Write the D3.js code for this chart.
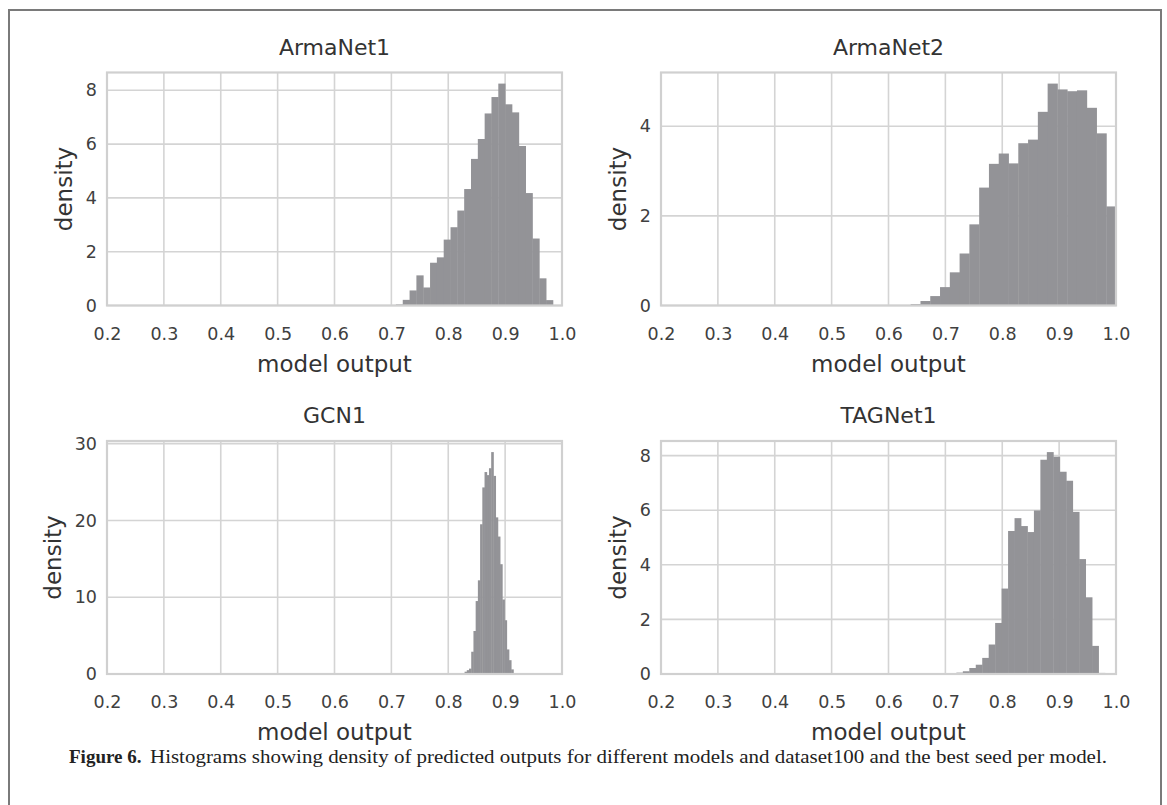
<!DOCTYPE html>
<html>
<head>
<meta charset="utf-8">
<script src="https://cdn.jsdelivr.net/npm/d3@7"></script>
<style>
	body { margin: 0; background: #fff; }
	svg { display: block; }
</style>
</head>
<body>
<svg id="figure" width="1167" height="805"></svg>
<script>
// values
const titles = ["ArmaNet1", "ArmaNet2", "GCN1", "TAGNet1"];
const xTicks = [0.2, 0.3, 0.4, 0.5, 0.6, 0.7, 0.8, 0.9, 1.0];
const yTicks = [
	[0, 2, 4, 6, 8],
	[0, 2, 4],
	[0, 10, 20, 30],
	[0, 2, 4, 6, 8]
];
// first bin edge and bin width per model
const binStart = [0.708, 0.639, 0.8248, 0.708];
const binWidth = [0.012, 0.0172, 0.0039, 0.01136];

const armaNet1 = [0.04, 0.21, 0.56, 1.12, 0.67, 1.59, 1.79, 2.45, 2.91, 3.53, 4.33, 5.45,
	6.19, 7.14, 7.75, 8.25, 7.48, 7.18, 5.93, 4.18, 2.49, 1.01, 0.2];
const armaNet2 = [0.03, 0.1, 0.21, 0.41, 0.74, 1.16, 1.81, 2.63, 3.16, 3.39, 3.17, 3.62,
	3.7, 4.32, 4.95, 4.82, 4.78, 4.8, 4.41, 3.84, 2.21];
const gcn1 = [0.1, 0.3, 0.5, 0.7, 2.9, 5.6, 9.5, 12.2, 19.5, 24.3, 26.3, 25.9,
	26.8, 28.9, 25.8, 20.4, 17.9, 14.3, 9.7, 7.0, 3.2, 1.8, 0.6, 0.1];
const tagNet1 = [0.02, 0.05, 0.1, 0.22, 0.34, 0.59, 1.08, 1.87, 3.13, 5.24, 5.71, 5.42,
	5.2, 5.99, 7.85, 8.13, 7.96, 7.41, 7.08, 5.94, 4.21, 2.81, 1.03, 0.04];
const densities = [armaNet1, armaNet2, gcn1, tagNet1];

const captionLabel = "Figure 6.";
const caption = "Histograms showing density of predicted outputs for different models and dataset100 and the best seed per model.";

const svg = d3.select("#figure");
const panelW = 455, panelH = 233;
const panelLeft = [107, 661, 107, 661];
const panelTop = [72.5, 72.5, 441, 441];

const gridColor = "#d4d4d4";
const textColor = "#404040";
const barColor = "#939397";

// outer frame (open at the bottom, as in the cropped page)
svg.append("path")
	.attr("d", "M9,805 V10 H1161 V805")
	.attr("fill", "none")
	.attr("stroke", "#7a7a7a")
	.attr("stroke-width", 2);

function drawPanel(i) {
	const g = svg.append("g")
		.attr("transform", `translate(${panelLeft[i]}, ${panelTop[i]})`);
	const data = densities[i];
	const x = d3.scaleLinear().domain([0.2, 1.0]).range([0, panelW]);
	const y = d3.scaleLinear().domain([0, d3.max(data) * 1.05]).range([panelH, 0]);

	// grid
	g.append("g").selectAll("line")
		.data(xTicks)
		.enter()
		.append("line")
		.attr("x1", d => x(d)).attr("x2", d => x(d))
		.attr("y1", 0).attr("y2", panelH)
		.attr("stroke", gridColor)
		.attr("stroke-width", 1.6);
	g.append("g").selectAll("line")
		.data(yTicks[i])
		.enter()
		.append("line")
		.attr("x1", 0).attr("x2", panelW)
		.attr("y1", d => y(d)).attr("y2", d => y(d))
		.attr("stroke", gridColor)
		.attr("stroke-width", 1.6);

	// histogram bars
	g.append("g").selectAll("rect")
		.data(data)
		.enter()
		.append("rect")
		.attr("x", (_, j) => x(binStart[i] + j * binWidth[i]))
		.attr("width", (_, j) => x(binStart[i] + (j + 1) * binWidth[i]) - x(binStart[i] + j * binWidth[i]) + 0.4)
		.attr("y", d => y(d))
		.attr("height", d => panelH - y(d))
		.attr("fill", barColor);

	// frame
	g.append("rect")
		.attr("width", panelW)
		.attr("height", panelH)
		.attr("fill", "none")
		.attr("stroke", "#d0d0d0")
		.attr("stroke-width", 2.2);

	// axes (text only, no tick marks)
	const xAxis = g.append("g")
		.attr("transform", `translate(0, ${panelH})`)
		.call(d3.axisBottom(x).tickValues(xTicks).tickFormat(d3.format(".1f")).tickSize(0).tickPadding(22));
	const yAxis = g.append("g")
		.call(d3.axisLeft(y).tickValues(yTicks[i]).tickFormat(d3.format("d")).tickSize(0).tickPadding(10));
	[xAxis, yAxis].forEach(a => {
		a.select(".domain").remove();
		a.selectAll("text")
			.attr("fill", textColor)
			.style("font-family", "DejaVu Sans")
			.style("font-size", "17.5px");
	});

	// y label sits left of the widest tick label, like matplotlib
	let tickW = 0;
	yAxis.selectAll("text").each(function () {
		tickW = Math.max(tickW, this.getBBox().width);
	});

	g.append("text")
		.attr("x", panelW / 2)
		.attr("y", -18)
		.attr("text-anchor", "middle")
		.attr("fill", "#333")
		.style("font-family", "DejaVu Sans")
		.style("font-size", "22px")
		.text(titles[i]);

	g.append("text")
		.attr("x", panelW / 2)
		.attr("y", panelH + 66)
		.attr("text-anchor", "middle")
		.attr("fill", "#333")
		.style("font-family", "DejaVu Sans")
		.style("font-size", "23px")
		.text("model output");

	g.append("text")
		.attr("transform", `translate(${-(10 + tickW + 14)}, ${panelH / 2}) rotate(-90)`)
		.attr("text-anchor", "middle")
		.attr("fill", "#333")
		.style("font-family", "DejaVu Sans")
		.style("font-size", "23px")
		.text("density");
}

d3.range(titles.length).forEach(drawPanel);

svg.append("text")
	.attr("x", 69)
	.attr("y", 763)
	.style("font-family", "Liberation Serif")
	.style("font-size", "19px")
	.style("font-weight", "bold")
	.attr("fill", "#222")
	.text(captionLabel);
svg.append("text")
	.attr("x", 150)
	.attr("y", 763)
	.attr("textLength", 957)
	.attr("lengthAdjust", "spacingAndGlyphs")
	.style("font-family", "Liberation Serif")
	.style("font-size", "19px")
	.attr("fill", "#222")
	.text(caption);
</script>
</body>
</html>
